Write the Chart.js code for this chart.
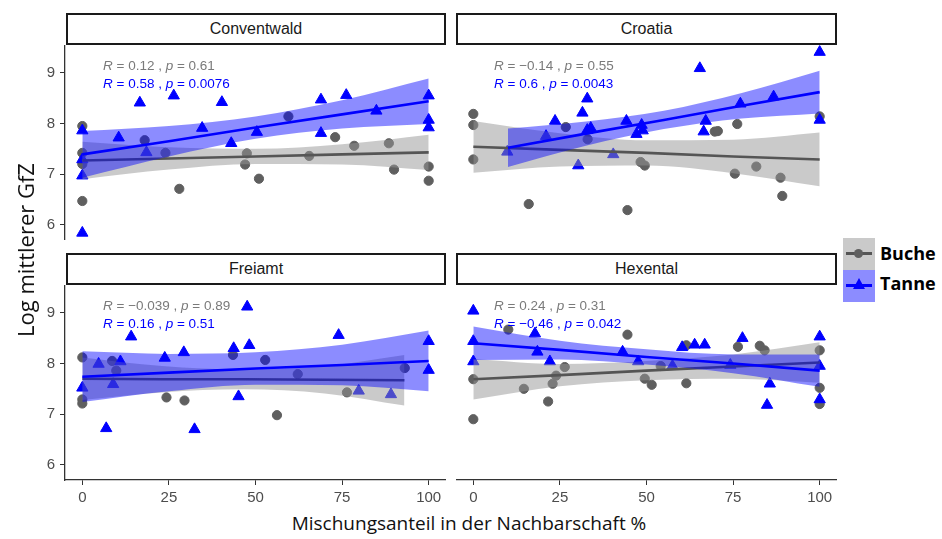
<!DOCTYPE html>
<html>
<head>
<meta charset="utf-8">
<script src="https://cdn.jsdelivr.net/npm/chart.js@4.4.1/dist/chart.umd.min.js"></script>
<style>
  body { margin: 0; background: #fff; }
  #wrap { position: relative; width: 942px; height: 539px; overflow: hidden; font-family: "Liberation Sans", Arial, sans-serif; }
  canvas { position: absolute; }
  .strip { position: absolute; box-sizing: border-box; border: 2px solid #1a1a1a; background: #fff;
           font-size: 16px; color: #1a1a1a; display: flex; align-items: center; justify-content: center; }
  .title { position: absolute; font-family: "Open Sans", sans-serif; color: #111; white-space: nowrap; }
  .key { position: absolute; left: 843px; width: 32px; height: 32px; }
  .key .ln { position: absolute; left: 3px; right: 3px; top: 14px; height: 3px; }
  .legtext { position: absolute; left: 880px; font-family: "Open Sans", sans-serif; font-weight: bold; font-size: 18px; color: #000; line-height: 24px; }
</style>
</head>
<body>
<div id="wrap">
  <div class="strip" style="left:66px;top:13px;width:380px;height:32px;">Conventwald</div>
  <div class="strip" style="left:456px;top:13px;width:381px;height:32px;">Croatia</div>
  <div class="strip" style="left:66px;top:253px;width:380px;height:32px;">Freiamt</div>
  <div class="strip" style="left:456px;top:253px;width:381px;height:32px;">Hexental</div>
  <canvas id="c0" width="416" height="195" style="left:30px;top:45px;"></canvas>
  <canvas id="c1" width="381" height="195" style="left:456px;top:45px;"></canvas>
  <canvas id="c2" width="416" height="225" style="left:30px;top:285px;"></canvas>
  <canvas id="c3" width="381" height="225" style="left:456px;top:285px;"></canvas>
  <div class="title" style="left:0;top:250px;width:50px;font-size:22px;transform:translate(0,-50%) rotate(-90deg);display:flex;justify-content:center;">
    <span>Log mittlerer GfZ</span>
  </div>
  <div class="title" style="left:469px;top:523px;font-size:19px;transform:translate(-50%,-50%);">Mischungsanteil in der Nachbarschaft %</div>
  <div class="key" style="top:238px;background:#cacaca;"><div class="ln" style="background:#555;"></div>
    <div style="position:absolute;left:11px;top:11px;width:9px;height:9px;border-radius:50%;background:#5f5f5f;"></div></div>
  <div class="key" style="top:270px;background:#8c8cff;"><div class="ln" style="background:#0000ff;"></div>
    <div style="position:absolute;left:10px;top:8px;width:0;height:0;border-left:6px solid transparent;border-right:6px solid transparent;border-bottom:11px solid #0000ff;"></div></div>
  <div class="legtext" style="top:241px;">Buche</div>
  <div class="legtext" style="top:271px;">Tanne</div>
</div>
<script>
const panels = ['Conventwald', 'Croatia', 'Freiamt', 'Hexental'];
const series = ['Buche', 'Tanne'];
const xTicks = [0, 25, 50, 75, 100];
const yTicks = [6, 7, 8, 9];

const conventwaldBucheX = [0, 0, 0, 0, 18, 24, 28, 47.5, 47, 51, 59.5, 65.5, 73, 78.5, 88.5, 90, 100, 100];
const conventwaldBucheY = [7.95, 7.42, 7.2, 6.47, 7.67, 7.42, 6.71, 7.41, 7.19, 6.91, 8.14, 7.36, 7.73, 7.56, 7.61, 7.09, 7.15, 6.87];
const conventwaldTanneX = [0, 0, 0, 0, 10.5, 16.6, 18.5, 26.4, 34.6, 40.3, 43, 50.4, 68.9, 68.9, 76.2, 84.9, 100, 100, 100];
const conventwaldTanneY = [7.86, 7.29, 6.97, 5.84, 7.72, 8.41, 7.43, 8.55, 7.91, 8.42, 7.61, 7.83, 8.47, 7.81, 8.56, 8.25, 8.55, 8.07, 7.92];

const croatiaBucheX = [0, 0, 0, 16, 26.7, 33, 44.5, 48.3, 49.5, 69.7, 70.6, 75.5, 76.2, 81.7, 88.7, 89.2, 100];
const croatiaBucheY = [8.19, 7.97, 7.29, 6.41, 7.93, 7.69, 6.29, 7.24, 7.17, 7.84, 7.85, 7.01, 7.99, 7.15, 6.93, 6.57, 8.14];
const croatiaTanneX = [9.8, 21, 23.6, 30.3, 31.5, 32.9, 32.9, 33.9, 40.4, 44.2, 47.1, 48.6, 48.9, 65.4, 67.1, 66.5, 77.1, 86.7, 100, 100];
const croatiaTanneY = [7.44, 7.75, 8.05, 7.17, 8.21, 8.49, 7.87, 7.91, 7.39, 8.05, 7.79, 7.97, 7.86, 9.09, 8.05, 7.84, 8.39, 8.53, 9.41, 8.07];

const freiamtBucheX = [0, 0, 0, 8.6, 9.8, 24.3, 29.5, 43.5, 52.8, 56.2, 62.2, 76.4, 93.1];
const freiamtBucheY = [8.12, 7.29, 7.21, 8.05, 7.86, 7.33, 7.27, 8.17, 8.07, 6.98, 7.79, 7.43, 7.91];
const freiamtTanneX = [0, 4.7, 6.9, 8.9, 11, 14.1, 23.8, 29.3, 32.4, 43.7, 45.1, 47.6, 48.2, 74, 79.8, 89.1, 100, 100];
const freiamtTanneY = [7.52, 7.99, 6.72, 7.59, 8.04, 8.53, 8.11, 8.22, 6.70, 8.30, 7.35, 9.12, 8.36, 8.56, 7.46, 7.39, 8.44, 7.87];

const hexentalBucheX = [0, 0, 10.1, 14.6, 21.6, 22.9, 23.9, 26.4, 44.5, 49.5, 51.5, 54.1, 61.5, 61.5, 76.4, 82.7, 84.1, 100, 100, 100];
const hexentalBucheY = [7.69, 6.90, 8.67, 7.50, 7.25, 7.60, 7.76, 7.93, 8.57, 7.70, 7.58, 7.95, 8.36, 7.61, 8.33, 8.35, 8.26, 8.26, 7.52, 7.20];
const hexentalTanneX = [0, 0, 0, 17.8, 18.5, 22.1, 43.1, 47.6, 57.5, 60.3, 63.9, 66.8, 74.2, 77.7, 85.6, 84.8, 100, 100, 100];
const hexentalTanneY = [9.04, 8.44, 8.04, 8.59, 8.23, 8.04, 8.23, 8.04, 7.95, 8.32, 8.37, 8.37, 7.97, 8.50, 7.60, 7.18, 8.53, 7.95, 7.29];

// fitted lines and confidence bands
const fitX = [0, 25, 50, 75, 100];
const croatiaTanneFitX = [10, 32.5, 55, 77.5, 100];
const freiamtBucheFitX = [0, 23, 46.5, 70, 93];

const conventwaldBucheFit = [7.27, 7.31, 7.35, 7.39, 7.43];
const conventwaldBucheLo = [6.90, 7.09, 7.20, 7.19, 7.08];
const conventwaldBucheHi = [7.64, 7.53, 7.50, 7.59, 7.78];
const conventwaldTanneFit = [7.39, 7.65, 7.92, 8.18, 8.44];
const conventwaldTanneLo = [6.93, 7.35, 7.70, 7.90, 7.99];
const conventwaldTanneHi = [7.85, 7.95, 8.14, 8.46, 8.89];

const croatiaBucheFit = [7.54, 7.48, 7.42, 7.35, 7.29];
const croatiaBucheLo = [7.03, 7.15, 7.17, 7.02, 6.76];
const croatiaBucheHi = [8.05, 7.81, 7.67, 7.68, 7.82];
const croatiaTanneFit = [7.52, 7.80, 8.07, 8.35, 8.62];
const croatiaTanneLo = [7.14, 7.56, 7.89, 8.10, 8.20];
const croatiaTanneHi = [7.90, 8.04, 8.25, 8.60, 9.04];

const freiamtBucheFit = [7.70, 7.69, 7.69, 7.68, 7.67];
const freiamtBucheLo = [7.28, 7.43, 7.49, 7.41, 7.17];
const freiamtBucheHi = [8.12, 7.95, 7.88, 7.95, 8.17];
const freiamtTanneFit = [7.74, 7.82, 7.90, 7.97, 8.05];
const freiamtTanneLo = [7.24, 7.45, 7.58, 7.57, 7.45];
const freiamtTanneHi = [8.24, 8.19, 8.22, 8.37, 8.65];

const hexentalBucheFit = [7.69, 7.77, 7.86, 7.94, 8.02];
const hexentalBucheLo = [7.29, 7.55, 7.67, 7.70, 7.62];
const hexentalBucheHi = [8.09, 7.99, 8.05, 8.18, 8.42];
const hexentalTanneFit = [8.40, 8.27, 8.13, 8.00, 7.86];
const hexentalTanneLo = [8.07, 8.08, 7.98, 7.81, 7.54];
const hexentalTanneHi = [8.73, 8.45, 8.28, 8.18, 8.18];

const bucheR = ['0.12', '\u22120.14', '\u22120.039', '0.24'];
const bucheP = ['0.61', '0.55', '0.89', '0.31'];
const tanneR = ['0.58', '0.6', '0.16', '\u22120.46'];
const tanneP = ['0.0076', '0.0043', '0.51', '0.042'];

const panelData = [
  {
    buche: [conventwaldBucheX, conventwaldBucheY, fitX, conventwaldBucheFit, conventwaldBucheLo, conventwaldBucheHi],
    tanne: [conventwaldTanneX, conventwaldTanneY, fitX, conventwaldTanneFit, conventwaldTanneLo, conventwaldTanneHi],
  },
  {
    buche: [croatiaBucheX, croatiaBucheY, fitX, croatiaBucheFit, croatiaBucheLo, croatiaBucheHi],
    tanne: [croatiaTanneX, croatiaTanneY, croatiaTanneFitX, croatiaTanneFit, croatiaTanneLo, croatiaTanneHi],
  },
  {
    buche: [freiamtBucheX, freiamtBucheY, freiamtBucheFitX, freiamtBucheFit, freiamtBucheLo, freiamtBucheHi],
    tanne: [freiamtTanneX, freiamtTanneY, fitX, freiamtTanneFit, freiamtTanneLo, freiamtTanneHi],
  },
  {
    buche: [hexentalBucheX, hexentalBucheY, fitX, hexentalBucheFit, hexentalBucheLo, hexentalBucheHi],
    tanne: [hexentalTanneX, hexentalTanneY, fitX, hexentalTanneFit, hexentalTanneLo, hexentalTanneHi],
  },
];

const grey = { point: '#5f5f5f', line: '#555555', band: 'rgba(150,150,150,0.5)' };
const blue = { point: '#0000ff', line: '#0000ff', band: 'rgba(0,0,255,0.45)' };

function toPoints(xs, ys) {
  return xs.map((x, i) => ({ x: x, y: ys[i] }));
}

const statsPlugin = {
  id: 'stats',
  afterDatasetsDraw(chart, args, opts) {
    const ctx = chart.ctx;
    const area = chart.chartArea;
    opts.lines.forEach((line, i) => {
      let x = area.left + 38;
      const y = area.top + 21 + i * 18.5;
      ctx.save();
      ctx.fillStyle = line.color;
      ctx.textBaseline = 'middle';
      line.parts.forEach((part) => {
        ctx.font = (part[1] ? 'italic ' : '') + '13.5px "Liberation Sans", Arial, sans-serif';
        ctx.fillText(part[0], x, y);
        x += ctx.measureText(part[0]).width;
      });
      ctx.restore();
    });
  },
};

function statParts(r, p) {
  return [['R', true], [' = ' + r + ' , ', false], ['p', true], [' = ' + p, false]];
}

function seriesDatasets(d, colors, style, radius, baseOrder) {
  const lo = toPoints(d[2], d[4]);
  const hi = toPoints(d[2], d[5]);
  return [
    {
      data: toPoints(d[0], d[1]), showLine: false, pointStyle: style, pointRadius: radius,
      pointBackgroundColor: colors.point, pointBorderColor: colors.point, pointBorderWidth: 1,
      order: baseOrder + 3, clip: false,
    },
    { data: lo, pointRadius: 0, borderWidth: 0, borderColor: 'rgba(0,0,0,0)', fill: false, order: baseOrder + 2, cubicInterpolationMode: 'monotone' },
    { data: hi, pointRadius: 0, borderWidth: 0, borderColor: 'rgba(0,0,0,0)', backgroundColor: colors.band, fill: '-1', order: baseOrder + 1, cubicInterpolationMode: 'monotone' },
    { data: toPoints(d[2], d[3]), pointRadius: 0, borderWidth: 2.6, borderColor: colors.line, fill: false, order: baseOrder },
  ];
}

function makePanel(index) {
  const d = panelData[index];
  const showY = index % 2 === 0;
  const showX = index >= 2;
  const bucheSets = seriesDatasets(d.buche, grey, 'circle', 4.6, 20);
  const tanneSets = seriesDatasets(d.tanne, blue, 'triangle', 6.5, 10);
  // Tanne points sit under both ribbons, so keep them with the point layer
  tanneSets[0].order = 22;
  const axisTicks = { color: '#4d4d4d', font: { family: '"Liberation Sans", Arial, sans-serif', size: 15 } };
  new Chart(document.getElementById('c' + index), {
    type: 'line',
    data: { datasets: bucheSets.concat(tanneSets) },
    options: {
      responsive: false,
      animation: false,
      layout: { padding: 0, autoPadding: false },
      plugins: {
        legend: { display: false },
        tooltip: { enabled: false },
        stats: {
          lines: [
            { color: '#7a7a7a', parts: statParts(bucheR[index], bucheP[index]) },
            { color: '#0000ff', parts: statParts(tanneR[index], tanneP[index]) },
          ],
        },
      },
      scales: {
        x: {
          type: 'linear', min: -5, max: 105, display: showX,
          afterBuildTicks: (s) => { s.ticks = xTicks.map((v) => ({ value: v })); },
          afterFit: (s) => {
            if (showX) s.height = 30;
            s.paddingLeft = 0;
            s.paddingRight = 0;
          },
          grid: { display: true, drawOnChartArea: false, drawTicks: true, tickLength: 5, color: '#333' },
          border: { display: true, color: '#333', width: 1.3 },
          ticks: Object.assign({ padding: 4, maxRotation: 0 }, axisTicks),
        },
        y: {
          type: 'linear', min: 5.7, max: 9.55, display: showY,
          afterBuildTicks: (s) => { s.ticks = yTicks.map((v) => ({ value: v })); },
          afterFit: (s) => {
            if (showY) s.width = 35;
            s.paddingTop = 0;
            s.paddingBottom = 0;
          },
          grid: { display: true, drawOnChartArea: false, drawTicks: true, tickLength: 5, color: '#333' },
          border: { display: true, color: '#333', width: 1.3 },
          ticks: Object.assign({ padding: 5 }, axisTicks),
        },
      },
    },
    plugins: [statsPlugin],
  });
}

document.addEventListener('DOMContentLoaded', function () {
  panels.forEach((name, i) => makePanel(i));
});
</script>
</body>
</html>
